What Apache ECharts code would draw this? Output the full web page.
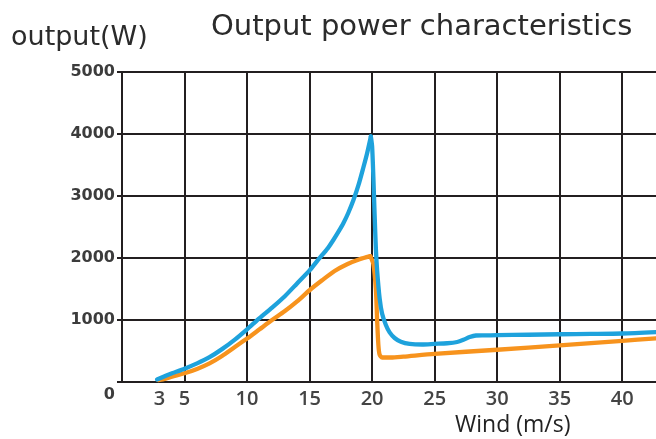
<!DOCTYPE html>
<html>
<head>
<meta charset="utf-8">
<script src="https://cdn.jsdelivr.net/npm/echarts@6/dist/echarts.min.js"></script>
<style>html,body{margin:0;padding:0;background:#fff}#c{width:656px;height:439px}</style>
</head>
<body>
<div id="c"></div>
<script>
var blueWind  = [2.8, 3.5, 4, 5, 6, 7, 8, 9, 10, 11, 12, 13, 14, 15, 15.6, 16.1, 16.5, 16.9, 17.3, 17.7, 18.1, 18.5, 18.9, 19.3, 19.6, 19.9, 20.0, 20.1, 20.2, 20.3, 20.4, 20.6, 20.8, 21.1, 21.4, 21.8, 22.3, 23, 24, 25, 26, 26.8, 27.3, 27.8, 28.3, 29, 30, 32.5, 35, 37.5, 40, 42.7];
var bluePower = [40, 100, 140, 215, 300, 400, 530, 680, 850, 1030, 1200, 1380, 1590, 1800, 1950, 2070, 2170, 2290, 2420, 2560, 2730, 2930, 3170, 3460, 3690, 3960, 3800, 3300, 2700, 2150, 1800, 1350, 1100, 920, 800, 710, 650, 615, 605, 615, 625, 645, 680, 725, 750, 752, 755, 762, 770, 775, 782, 805];
var orangeWind  = [2.9, 3.5, 4, 5, 6, 7, 8, 9, 10, 11, 12, 13, 14, 15, 16, 17, 18, 19, 19.85, 20.1, 20.3, 20.4, 20.5, 20.6, 20.8, 21.5, 22.5, 25, 30, 35, 40, 42.7];
var orangePower = [30, 55, 85, 140, 210, 300, 420, 560, 700, 850, 1000, 1140, 1300, 1480, 1640, 1790, 1900, 1980, 2030, 1900, 1500, 1000, 600, 440, 395, 395, 410, 455, 520, 590, 665, 705];
var xTickLabels = [3, 5, 10, 15, 20, 25, 30, 35, 40];
var yTicks = [0, 1000, 2000, 3000, 4000, 5000];

function pairs(xs, ys) { return xs.map(function (x, i) { return [x, ys[i]]; }); }
// split a curve at its peak so the peak stays sharp while each side is smoothed
function splitAtPeak(xs, ys) {
  var k = ys.indexOf(Math.max.apply(null, ys));
  var all = pairs(xs, ys);
  return [all.slice(0, k + 1), all.slice(k)];
}

var gridColor = '#231f20';
var blueColor = '#1ea2dc', orangeColor = '#f7931d';
var bParts = splitAtPeak(blueWind, bluePower);
var oParts = splitAtPeak(orangeWind, orangePower);

function lineSeries(data, color, z) {
  return {type: 'line', data: data, showSymbol: false, smooth: 0.25,
          lineStyle: {color: color, width: 4.3, cap: 'round', join: 'round'}, z: z};
}

var chart = echarts.init(document.getElementById('c'), null, {renderer: 'canvas'});
chart.setOption({
  animation: false,
  backgroundColor: '#ffffff',
  title: {
    text: 'Output power characteristics',
    left: 206, top: 8,
    textStyle: {fontFamily: 'DejaVu Sans', fontSize: 29, fontWeight: 'normal', color: '#2b2b2b'}
  },
  graphic: [
    {type: 'text', left: 11, top: 24, style: {text: 'output(W)', font: '27px "DejaVu Sans"', fill: '#2b2b2b'}},
    {type: 'text', left: 455, top: 414, style: {text: 'Wind (m/s)', font: '23px "Open Sans"', fill: '#222'}}
  ],
  grid: {left: 122, right: 0, top: 72, bottom: 57, containLabel: false},
  xAxis: {
    type: 'value', min: 0, max: 42.7, interval: 5,
    axisLine: {show: true, onZero: false, lineStyle: {color: gridColor, width: 2}},
    axisTick: {show: false},
    splitLine: {show: true, showMaxLine: false, lineStyle: {color: gridColor, width: 2}},
    axisLabel: {
      customValues: xTickLabels, margin: 7,
      fontFamily: 'Open Sans', fontSize: 20, fontWeight: 600, color: '#444'
    }
  },
  yAxis: {
    type: 'value', min: yTicks[0], max: yTicks[yTicks.length - 1], interval: 1000,
    axisLine: {show: true, lineStyle: {color: gridColor, width: 2}},
    axisTick: {show: true, length: 5, lineStyle: {color: gridColor, width: 2}},
    splitLine: {show: true, lineStyle: {color: gridColor, width: 2}},
    axisLabel: {
      margin: 7, fontFamily: 'DejaVu Sans', fontSize: 16, fontWeight: 'bold', color: '#3c3c3c',
      formatter: function (v) { return v === 0 ? '{z|0}' : String(v); },
      rich: {z: {fontFamily: 'DejaVu Sans', fontSize: 16, fontWeight: 'bold', color: '#3c3c3c', padding: [26, 0, 0, 0]}}
    }
  },
  series: [
    lineSeries(oParts[0], orangeColor, 3),
    lineSeries(oParts[1], orangeColor, 3),
    lineSeries(bParts[0], blueColor, 4),
    lineSeries(bParts[1], blueColor, 4)
  ]
});
</script>
</body>
</html>
